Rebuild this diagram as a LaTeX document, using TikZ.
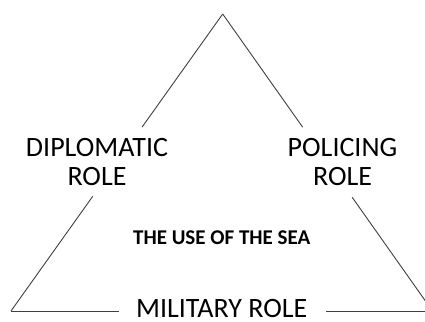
\documentclass[tikz,border=0pt]{standalone}
\usepackage{fontspec}
\setmainfont{Carlito}
\usetikzlibrary{calc}

\tikzset{
  side/.style={line width=0.9pt, draw=black!75},
  role/.style={align=center, font=\fontsize{28}{29}\selectfont, inner sep=0pt},
  theme/.style={font=\bfseries\fontsize{21}{24}\selectfont, inner sep=0pt}
}

\begin{document}
\begin{tikzpicture}[x=1pt,y=-1pt]
  \clip (0,0) rectangle (425,321);
  \fill[white] (0,0) rectangle (425,321);

  % corners of the triangle
  \coordinate (top)   at (222.7,14);
  \coordinate (left)  at (11,311);
  \coordinate (right) at (432.5,311);

  % the three roles and the centre
  \node[role]  (diplomatic) at (97,162.5) {DIPLOMATIC\\ROLE};
  \node[role]  (policing)   at (342.5,162.5) {POLICING\\ROLE};
  \node[role, anchor=base] (military) at (221.7,317) {MILITARY ROLE};
  \node[theme] (sea)        at (221.7,237.5) {THE USE OF THE SEA};

  % sides, broken where the labels stand
  \draw[side] (top) -- ($(top)!0.381!(left)$);
  \draw[side] ($(top)!0.614!(left)$) -- (left);
  \draw[side] (top) -- ($(top)!0.381!(right)$);
  \draw[side] ($(top)!0.617!(right)$) -- (right);
  \draw[side] (left) -- ($(left)!0.257!(right)$);
  \draw[side] ($(left)!0.748!(right)$) -- (right);
\end{tikzpicture}
\end{document}
